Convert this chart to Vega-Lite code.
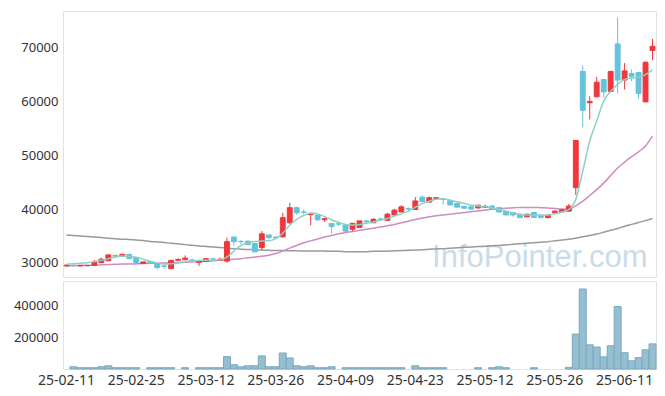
{
  "$schema": "https://vega.github.io/schema/vega-lite/v6.json",
  "padding": {"left": 4, "top": 10, "right": 10, "bottom": 0},
  "autosize": {"type": "pad"},
  "config": {
    "view": {"stroke": "#e3e3e3", "strokeWidth": 1},
    "font": "Noto Sans",
    "axis": {"labelFont": "Noto Sans", "labelColor": "#333333", "grid": false, "ticks": false, "domain": false, "title": null}
  },
  "spacing": 2,
  "resolve": {"scale": {"x": "independent"}},
  "datasets": {
    "k": [
      {"d":"25-02-11","o":29450,"h":29700,"l":29400,"c":29600,"v":0,"m5":29750,"m20":29450,"m60":35200},
      {"d":"25-02-12","o":29550,"h":29900,"l":29300,"c":29500,"v":14000,"m5":29850,"m20":29500,"m60":35100},
      {"d":"25-02-13","o":29450,"h":29600,"l":29400,"c":29550,"v":8000,"m5":29950,"m20":29550,"m60":35000},
      {"d":"25-02-14","o":29500,"h":29600,"l":29400,"c":29500,"v":8000,"m5":30050,"m20":29600,"m60":34900},
      {"d":"25-02-17","o":29550,"h":30550,"l":29500,"c":30200,"v":8000,"m5":30250,"m20":29600,"m60":34800},
      {"d":"25-02-18","o":30050,"h":31000,"l":30000,"c":30700,"v":14000,"m5":30500,"m20":29650,"m60":34700},
      {"d":"25-02-19","o":30400,"h":31500,"l":30400,"c":31500,"v":20000,"m5":30800,"m20":29700,"m60":34600},
      {"d":"25-02-20","o":31400,"h":31500,"l":31200,"c":31250,"v":8000,"m5":31100,"m20":29750,"m60":34500},
      {"d":"25-02-21","o":31300,"h":31700,"l":31100,"c":31600,"v":8000,"m5":31300,"m20":29800,"m60":34400},
      {"d":"25-02-24","o":31600,"h":31600,"l":30800,"c":30800,"v":8000,"m5":31250,"m20":29800,"m60":34350},
      {"d":"25-02-25","o":31000,"h":31000,"l":30000,"c":30050,"v":8000,"m5":31050,"m20":29850,"m60":34250},
      {"d":"25-02-26","o":29900,"h":30200,"l":29850,"c":30200,"v":0,"m5":30700,"m20":29900,"m60":34150},
      {"d":"25-02-27","o":30300,"h":30300,"l":29900,"c":30000,"v":8000,"m5":30300,"m20":29950,"m60":34000},
      {"d":"25-02-28","o":29850,"h":29850,"l":28800,"c":29150,"v":8000,"m5":30000,"m20":29950,"m60":33900},
      {"d":"25-03-04","o":29450,"h":29700,"l":28900,"c":29400,"v":8000,"m5":29800,"m20":30000,"m60":33800},
      {"d":"25-03-05","o":28950,"h":30500,"l":28950,"c":30500,"v":8000,"m5":29850,"m20":30050,"m60":33650},
      {"d":"25-03-06","o":30500,"h":30900,"l":30400,"c":30650,"v":0,"m5":30000,"m20":30100,"m60":33550},
      {"d":"25-03-07","o":30600,"h":31400,"l":30500,"c":30900,"v":8000,"m5":30200,"m20":30150,"m60":33400},
      {"d":"25-03-10","o":30550,"h":30800,"l":30300,"c":30500,"v":0,"m5":30350,"m20":30200,"m60":33300},
      {"d":"25-03-11","o":30100,"h":30400,"l":29450,"c":30300,"v":8000,"m5":30450,"m20":30250,"m60":33150},
      {"d":"25-03-12","o":30300,"h":30900,"l":30200,"c":30800,"v":8000,"m5":30500,"m20":30300,"m60":33050},
      {"d":"25-03-13","o":30750,"h":31000,"l":30500,"c":30700,"v":8000,"m5":30550,"m20":30400,"m60":32950},
      {"d":"25-03-14","o":30500,"h":31000,"l":30400,"c":30700,"v":8000,"m5":30600,"m20":30500,"m60":32850},
      {"d":"25-03-17","o":30350,"h":34700,"l":30050,"c":33950,"v":77500,"m5":31100,"m20":30600,"m60":32750},
      {"d":"25-03-18","o":34800,"h":34900,"l":33200,"c":33950,"v":26500,"m5":32200,"m20":30700,"m60":32650},
      {"d":"25-03-19","o":34000,"h":34200,"l":33500,"c":33950,"v":14000,"m5":33250,"m20":30800,"m60":32550},
      {"d":"25-03-20","o":34050,"h":34100,"l":33400,"c":33450,"v":20000,"m5":33750,"m20":30950,"m60":32500},
      {"d":"25-03-21","o":33600,"h":33700,"l":32000,"c":32050,"v":20000,"m5":34000,"m20":31100,"m60":32450},
      {"d":"25-03-24","o":32850,"h":35900,"l":32350,"c":35400,"v":82000,"m5":34050,"m20":31250,"m60":32400},
      {"d":"25-03-25","o":35200,"h":35300,"l":34400,"c":34700,"v":14000,"m5":34100,"m20":31450,"m60":32350},
      {"d":"25-03-26","o":34800,"h":34900,"l":34500,"c":34650,"v":14000,"m5":34500,"m20":31750,"m60":32300},
      {"d":"25-03-27","o":34850,"h":39300,"l":34700,"c":38400,"v":100000,"m5":35500,"m20":32200,"m60":32300},
      {"d":"25-03-28","o":37450,"h":41150,"l":37200,"c":40250,"v":69000,"m5":37000,"m20":32750,"m60":32250},
      {"d":"25-03-31","o":40250,"h":40400,"l":38900,"c":39300,"v":20000,"m5":38100,"m20":33250,"m60":32250},
      {"d":"25-04-01","o":39450,"h":39900,"l":39000,"c":39400,"v":14000,"m5":38800,"m20":33750,"m60":32200},
      {"d":"25-04-02","o":38950,"h":39200,"l":37000,"c":39100,"v":20000,"m5":39250,"m20":34100,"m60":32200},
      {"d":"25-04-03","o":38900,"h":38900,"l":37800,"c":38000,"v":8000,"m5":39100,"m20":34450,"m60":32200},
      {"d":"25-04-04","o":38000,"h":38400,"l":37600,"c":38200,"v":8000,"m5":38600,"m20":34800,"m60":32200},
      {"d":"25-04-07","o":37300,"h":37300,"l":35450,"c":36750,"v":14000,"m5":38000,"m20":35100,"m60":32150},
      {"d":"25-04-08","o":37250,"h":37700,"l":36800,"c":37200,"v":0,"m5":37500,"m20":35400,"m60":32150},
      {"d":"25-04-09","o":37000,"h":37000,"l":35700,"c":35900,"v":8000,"m5":37150,"m20":35650,"m60":32100},
      {"d":"25-04-10","o":36250,"h":37400,"l":35900,"c":37350,"v":8000,"m5":37050,"m20":35850,"m60":32100},
      {"d":"25-04-11","o":36550,"h":37800,"l":36550,"c":37800,"v":8000,"m5":37100,"m20":36050,"m60":32100},
      {"d":"25-04-14","o":37800,"h":37900,"l":37500,"c":37600,"v":8000,"m5":37350,"m20":36250,"m60":32100},
      {"d":"25-04-15","o":37450,"h":38300,"l":37400,"c":38100,"v":8000,"m5":37600,"m20":36450,"m60":32150},
      {"d":"25-04-16","o":38150,"h":38400,"l":37900,"c":38100,"v":8000,"m5":37900,"m20":36650,"m60":32150},
      {"d":"25-04-17","o":37900,"h":39300,"l":37900,"c":39050,"v":8000,"m5":38250,"m20":36900,"m60":32200},
      {"d":"25-04-18","o":38900,"h":40000,"l":38700,"c":39800,"v":8000,"m5":38700,"m20":37150,"m60":32250},
      {"d":"25-04-21","o":39450,"h":40700,"l":39400,"c":40400,"v":8000,"m5":39100,"m20":37450,"m60":32300},
      {"d":"25-04-22","o":40050,"h":40300,"l":39500,"c":40000,"v":0,"m5":39600,"m20":37750,"m60":32350},
      {"d":"25-04-23","o":39900,"h":42200,"l":39900,"c":41500,"v":20000,"m5":40300,"m20":38050,"m60":32400},
      {"d":"25-04-24","o":42200,"h":42500,"l":41300,"c":41350,"v":8000,"m5":41000,"m20":38350,"m60":32450},
      {"d":"25-04-25","o":41300,"h":42300,"l":41200,"c":42100,"v":8000,"m5":41450,"m20":38550,"m60":32550},
      {"d":"25-04-28","o":41950,"h":42200,"l":41800,"c":42100,"v":8000,"m5":41800,"m20":38750,"m60":32600},
      {"d":"25-04-29","o":41850,"h":42100,"l":40850,"c":41800,"v":8000,"m5":41900,"m20":38900,"m60":32650},
      {"d":"25-04-30","o":41600,"h":41600,"l":40700,"c":40750,"v":0,"m5":41650,"m20":39050,"m60":32750},
      {"d":"25-05-02","o":41050,"h":41100,"l":40300,"c":40350,"v":0,"m5":41350,"m20":39200,"m60":32800},
      {"d":"25-05-07","o":40500,"h":40500,"l":40100,"c":40150,"v":0,"m5":41050,"m20":39350,"m60":32900},
      {"d":"25-05-08","o":40400,"h":40500,"l":39800,"c":40000,"v":0,"m5":40750,"m20":39500,"m60":32950},
      {"d":"25-05-09","o":40200,"h":40800,"l":40100,"c":40700,"v":8000,"m5":40550,"m20":39650,"m60":33050},
      {"d":"25-05-12","o":40300,"h":40800,"l":40200,"c":40500,"v":0,"m5":40400,"m20":39800,"m60":33100},
      {"d":"25-05-13","o":40550,"h":40800,"l":40050,"c":40100,"v":8000,"m5":40200,"m20":39950,"m60":33200},
      {"d":"25-05-14","o":40250,"h":40300,"l":39300,"c":39450,"v":14000,"m5":39900,"m20":40050,"m60":33250},
      {"d":"25-05-15","o":39600,"h":39600,"l":38900,"c":38900,"v":8000,"m5":39600,"m20":40150,"m60":33350},
      {"d":"25-05-16","o":39350,"h":39400,"l":38600,"c":38900,"v":0,"m5":39300,"m20":40250,"m60":33450},
      {"d":"25-05-19","o":39050,"h":39100,"l":38400,"c":38400,"v":0,"m5":39000,"m20":40300,"m60":33550},
      {"d":"25-05-20","o":38550,"h":39100,"l":38500,"c":39050,"v":0,"m5":38900,"m20":40300,"m60":33650},
      {"d":"25-05-21","o":39350,"h":39400,"l":38400,"c":38450,"v":8000,"m5":38850,"m20":40300,"m60":33750},
      {"d":"25-05-22","o":38900,"h":38900,"l":38200,"c":38450,"v":0,"m5":38850,"m20":40250,"m60":33850},
      {"d":"25-05-23","o":38400,"h":38900,"l":38300,"c":38850,"v":0,"m5":38900,"m20":40200,"m60":33950},
      {"d":"25-05-26","o":39300,"h":39800,"l":39200,"c":39600,"v":0,"m5":39100,"m20":40100,"m60":34100},
      {"d":"25-05-27","o":39450,"h":39900,"l":39400,"c":39850,"v":0,"m5":39450,"m20":40000,"m60":34250},
      {"d":"25-05-28","o":39600,"h":40950,"l":39500,"c":40550,"v":10000,"m5":39900,"m20":39950,"m60":34400},
      {"d":"25-05-29","o":43950,"h":52700,"l":42600,"c":52700,"v":218000,"m5":41800,"m20":40600,"m60":34600},
      {"d":"25-05-30","o":65500,"h":66600,"l":55100,"c":58300,"v":500000,"m5":47000,"m20":41450,"m60":34850},
      {"d":"25-06-02","o":59700,"h":60900,"l":56600,"c":59950,"v":151000,"m5":52600,"m20":42500,"m60":35100},
      {"d":"25-06-04","o":60800,"h":64500,"l":60700,"c":63500,"v":137000,"m5":56300,"m20":43600,"m60":35350},
      {"d":"25-06-05","o":64000,"h":64000,"l":60700,"c":61700,"v":76000,"m5":60000,"m20":44800,"m60":35700},
      {"d":"25-06-09","o":61800,"h":65500,"l":61800,"c":65500,"v":145000,"m5":61800,"m20":46200,"m60":36050},
      {"d":"25-06-10","o":70600,"h":75500,"l":61400,"c":63900,"v":390000,"m5":63100,"m20":47600,"m60":36400},
      {"d":"25-06-11","o":63900,"h":67050,"l":62150,"c":65600,"v":102000,"m5":64000,"m20":48700,"m60":36800},
      {"d":"25-06-12","o":65100,"h":65850,"l":63700,"c":64600,"v":51000,"m5":64300,"m20":49700,"m60":37150},
      {"d":"25-06-13","o":65300,"h":65300,"l":60450,"c":61400,"v":71000,"m5":64400,"m20":50600,"m60":37500},
      {"d":"25-06-16","o":59850,"h":67350,"l":59850,"c":67200,"v":120000,"m5":64900,"m20":51700,"m60":37850},
      {"d":"25-06-17","o":69400,"h":71500,"l":67600,"c":70150,"v":157000,"m5":65800,"m20":53500,"m60":38250}
    ]
  },
  "vconcat": [
    {
      "width": 593,
      "height": 266,
      "data": {"name": "k"},
      "encoding": {
        "x": {"field": "d", "type": "ordinal", "sort": null,
              "scale": {"type": "band", "paddingInner": 0.3, "paddingOuter": 0.15,
                        "domain": ["25-02-11","25-02-12","25-02-13","25-02-14","25-02-17","25-02-18","25-02-19","25-02-20","25-02-21","25-02-24","25-02-25","25-02-26","25-02-27","25-02-28","25-03-04","25-03-05","25-03-06","25-03-07","25-03-10","25-03-11","25-03-12","25-03-13","25-03-14","25-03-17","25-03-18","25-03-19","25-03-20","25-03-21","25-03-24","25-03-25","25-03-26","25-03-27","25-03-28","25-03-31","25-04-01","25-04-02","25-04-03","25-04-04","25-04-07","25-04-08","25-04-09","25-04-10","25-04-11","25-04-14","25-04-15","25-04-16","25-04-17","25-04-18","25-04-21","25-04-22","25-04-23","25-04-24","25-04-25","25-04-28","25-04-29","25-04-30","25-05-02","25-05-07","25-05-08","25-05-09","25-05-12","25-05-13","25-05-14","25-05-15","25-05-16","25-05-19","25-05-20","25-05-21","25-05-22","25-05-23","25-05-26","25-05-27","25-05-28","25-05-29","25-05-30","25-06-02","25-06-04","25-06-05","25-06-09","25-06-10","25-06-11","25-06-12","25-06-13","25-06-16","25-06-17"]},
              "axis": null}
      },
      "layer": [
        {
          "data": {"values": [{"t": "InfoPointer.com"}]},
          "mark": {"type": "text", "align": "right", "baseline": "alphabetic", "font": "Liberation Sans", "fontSize": 31, "color": "#c9dce7", "dx": -5},
          "encoding": {
            "x": {"datum": "25-06-17", "type": "ordinal"},
            "y": {"datum": 29260, "type": "quantitative"},
            "text": {"field": "t"}
          }
        },
        {
          "mark": {"type": "line", "color": "#9a9a9a", "strokeWidth": 1.5, "interpolate": "monotone"},
          "encoding": {"y": {"field": "m60", "type": "quantitative", "title": null}}
        },
        {
          "mark": {"type": "line", "color": "#cc8cc4", "strokeWidth": 1.5, "interpolate": "monotone"},
          "encoding": {"y": {"field": "m20", "type": "quantitative", "title": null}}
        },
        {
          "mark": {"type": "rule", "strokeWidth": 1},
          "encoding": {
            "y": {"field": "l", "type": "quantitative", "title": null,
                  "scale": {"domain": [27400, 76700], "nice": false, "zero": false},
                  "axis": {"values": [30000, 40000, 50000, 60000, 70000], "format": "d", "labelFontSize": 13, "labelPadding": 5, "minExtent": 58, "maxExtent": 58}},
            "y2": {"field": "h"},
            "color": {"condition": {"test": "datum.c >= datum.o", "value": "#ee383c"}, "value": "#64c2da"}
          }
        },
        {
          "mark": {"type": "bar", "strokeWidth": 1},
          "encoding": {
            "y": {"field": "o", "type": "quantitative", "title": null},
            "y2": {"field": "c"},
            "color": {"condition": {"test": "datum.c >= datum.o", "value": "#ee383c"}, "value": "#64c2da"},
            "stroke": {"condition": {"test": "datum.c >= datum.o", "value": "#ee383c"}, "value": "#64c2da"}
          }
        },
        {
          "mark": {"type": "line", "color": "#8fd0c5", "strokeWidth": 1.5, "interpolate": "monotone"},
          "encoding": {"y": {"field": "m5", "type": "quantitative", "title": null}}
        }
      ]
    },
    {
      "width": 593,
      "height": 88,
      "data": {"name": "k"},
      "transform": [{"filter": "datum.v > 0"}],
      "mark": {"type": "bar", "fill": "#96bed1", "stroke": "#7aa8bf", "strokeWidth": 1},
      "encoding": {
        "x": {"field": "d", "type": "ordinal", "sort": null,
              "scale": {"type": "band", "paddingInner": 0, "paddingOuter": 0,
                        "domain": ["25-02-11","25-02-12","25-02-13","25-02-14","25-02-17","25-02-18","25-02-19","25-02-20","25-02-21","25-02-24","25-02-25","25-02-26","25-02-27","25-02-28","25-03-04","25-03-05","25-03-06","25-03-07","25-03-10","25-03-11","25-03-12","25-03-13","25-03-14","25-03-17","25-03-18","25-03-19","25-03-20","25-03-21","25-03-24","25-03-25","25-03-26","25-03-27","25-03-28","25-03-31","25-04-01","25-04-02","25-04-03","25-04-04","25-04-07","25-04-08","25-04-09","25-04-10","25-04-11","25-04-14","25-04-15","25-04-16","25-04-17","25-04-18","25-04-21","25-04-22","25-04-23","25-04-24","25-04-25","25-04-28","25-04-29","25-04-30","25-05-02","25-05-07","25-05-08","25-05-09","25-05-12","25-05-13","25-05-14","25-05-15","25-05-16","25-05-19","25-05-20","25-05-21","25-05-22","25-05-23","25-05-26","25-05-27","25-05-28","25-05-29","25-05-30","25-06-02","25-06-04","25-06-05","25-06-09","25-06-10","25-06-11","25-06-12","25-06-13","25-06-16","25-06-17"]},
              "axis": {"values": ["25-02-11","25-02-25","25-03-12","25-03-26","25-04-09","25-04-23","25-05-12","25-05-26","25-06-11"], "labelAngle": 0, "labelFontSize": 14, "labelPadding": 4, "title": null}},
        "y": {"field": "v", "type": "quantitative", "title": null,
              "scale": {"domain": [0, 550000], "nice": false},
              "axis": {"values": [200000, 400000], "format": "d", "labelFontSize": 13, "labelPadding": 5, "minExtent": 58, "maxExtent": 58}}
      }
    }
  ]
}
